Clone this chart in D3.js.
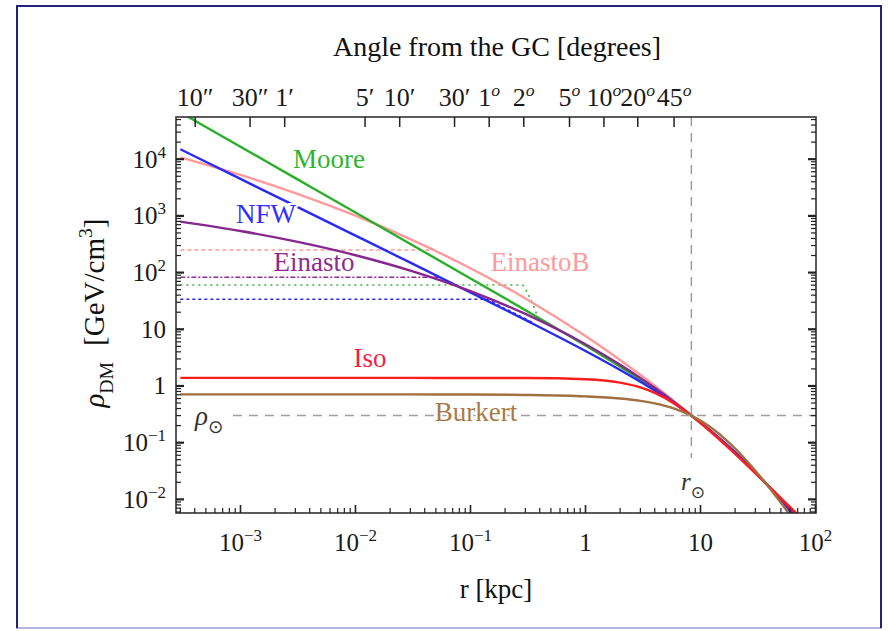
<!DOCTYPE html>
<html>
<head>
<meta charset="utf-8">
<title>DM density profiles</title>
<script src="https://d3js.org/d3.v7.min.js"></script>
<style>
  body { margin: 0; background: #fff; }
  text { font-family: "Liberation Serif", "DejaVu Serif", serif; }
</style>
</head>
<body>
<svg id="chart" width="888" height="631"></svg>
<script>
const radii = [0.0003, 0.001, 0.003, 0.01, 0.03, 0.1, 0.3, 1, 2, 3, 4, 6, 8.33, 12, 18, 25, 35, 50, 70, 100];

// rho_DM in GeV/cm^3 at those radii
const moore    = [66970, 16570, 4632, 1146, 319.9, 78.83, 21.78, 5.170, 2.183, 1.289, 0.8746, 0.4923, 0.3001, 0.1662, 0.08136, 0.04332, 0.02160, 0.009759, 0.004386, 0.001792];
const nfw      = [14980, 4492, 1497, 448.9, 149.4, 44.57, 14.62, 4.147, 1.919, 1.188, 0.8294, 0.4826, 0.2999, 0.1683, 0.08273, 0.04388, 0.02168, 0.009676, 0.004294, 0.001731];
const einasto  = [793.3, 542.0, 355.2, 202.3, 108.3, 47.06, 18.67, 5.443, 2.368, 1.386, 0.9278, 0.5084, 0.3029, 0.1643, 0.07957, 0.04258, 0.02163, 0.01010, 0.004711, 0.001999];
const einastoB = [10765, 5278, 2523, 1006.8, 389.0, 119.15, 34.99, 7.617, 2.881, 1.573, 1.0072, 0.5242, 0.3024, 0.1602, 0.07668, 0.04120, 0.02129, 0.01029, 0.005047, 0.002303];
const iso      = [1.387, 1.387, 1.387, 1.387, 1.387, 1.386, 1.3805, 1.318, 1.148, 0.9441, 0.7563, 0.4822, 0.3004, 0.1631, 0.07753, 0.04131, 0.02139, 0.01056, 0.005409, 0.002656];
const burkert  = [0.7120, 0.7119, 0.7118, 0.7114, 0.7103, 0.7064, 0.6951, 0.6558, 0.6000, 0.5451, 0.4921, 0.3947, 0.2999, 0.1928, 0.09745, 0.04894, 0.02193, 0.008685, 0.003462, 0.001265];

// smoothed (cored) versions, dashed/dotted
const einastoBSmoothR = [0.0003, 0.044];
const einastoBSmooth  = [250, 250];
const einastoSmoothR  = [0.0003, 0.055];
const einastoSmooth   = [82.6, 82.6];
const mooreSmoothR    = [0.0003, 0.28, 0.32, 0.38];
const mooreSmooth     = [60.4, 60.4, 40, 17.5];
const nfwSmoothR      = [0.0003, 0.13, 0.2, 0.35];
const nfwSmooth       = [33.8, 33.8, 23.0, 13.0];

// axes
const xDecades = [1e-3, 1e-2, 1e-1, 1, 10, 100];
const xDecadeLabels = [["10", "−3"], ["10", "−2"], ["10", "−1"], ["1", ""], ["10", ""], ["10", "2"]];
const yDecades = [1e-2, 1e-1, 1, 10, 1e2, 1e3, 1e4];
const yDecadeLabels = [["10", "−2"], ["10", "−1"], ["1", ""], ["10", ""], ["10", "2"], ["10", "3"], ["10", "4"]];
const angleDeg = [10 / 3600, 30 / 3600, 1 / 60, 5 / 60, 10 / 60, 0.5, 1, 2, 5, 10, 20, 45];
const angleLabels = [["10", "″"], ["30", "″"], ["1", "′"], ["5", "′"], ["10", "′"], ["30", "′"],
                     ["1", "o"], ["2", "o"], ["5", "o"], ["10", "o"], ["20", "o"], ["45", "o"]];

const rSun = 8.33, rhoSun = 0.3;

const W = 888, H = 631;
const plot = { left: 176, right: 816, top: 117, bottom: 513 };

const svg = d3.select("#chart");
svg.append("rect").attr("width", W).attr("height", H).attr("fill", "#fff");

// outer frame of the slide
svg.append("rect").attr("x", 17).attr("y", 6).attr("width", 864).attr("height", 622)
    .attr("fill", "none").attr("stroke", "#b4b4e0").attr("stroke-width", 2);
svg.append("path").attr("d", "M17,628 V6 H881 V628")
    .attr("fill", "none").attr("stroke", "#22227a").attr("stroke-width", 2);

const x = d3.scaleLog().domain([2.75e-4, 101]).range([plot.left, plot.right]);
const y = d3.scaleLog().domain([0.00575, 55460]).range([plot.bottom, plot.top]);

// text with sub/superscripts
function rich(parent, px, py, parts, size, anchor, color) {
    const t = parent.append("text").attr("x", px).attr("y", py)
        .attr("font-size", size).attr("text-anchor", anchor).attr("fill", color);
    let shift = 0;
    parts.forEach(([s, kind, gap]) => {
        if (s === "") return;
        const target = kind.includes("sup") ? -0.4 * size : kind.includes("sub") ? 0.3 * size : 0;
        const ts = t.append("tspan").text(s).attr("dy", target - shift);
        shift = target;
        if (gap) ts.attr("dx", gap);
        if (kind.includes("sup") || kind.includes("sub")) ts.attr("font-size", size * 0.68);
        if (kind.includes("it")) ts.attr("font-style", "italic");
        if (kind.includes("sym")) ts.attr("font-family", "DejaVu Sans");
    });
    return t;
}

svg.append("clipPath").attr("id", "clip").append("rect")
    .attr("x", plot.left).attr("y", plot.top)
    .attr("width", plot.right - plot.left).attr("height", plot.bottom - plot.top);

const line = d3.line().x(d => x(d[0])).y(d => y(d[1])).curve(d3.curveMonotoneX);
const curves = svg.append("g").attr("clip-path", "url(#clip)");

// reference lines for the Sun
const gSun = svg.append("g").attr("stroke", "#9c9c9c").attr("stroke-width", 1.5)
    .attr("stroke-dasharray", "9,7");
gSun.append("line").attr("x1", 233).attr("x2", plot.right)
    .attr("y1", y(rhoSun)).attr("y2", y(rhoSun));
gSun.append("line").attr("x1", x(rSun)).attr("x2", x(rSun))
    .attr("y1", plot.top).attr("y2", 458);

// smoothed profiles
const smooth = [
    { r: einastoBSmoothR, v: einastoBSmooth, color: "#ff9c9c", dash: "4,3" },
    { r: einastoSmoothR, v: einastoSmooth, color: "#8e2c96", dash: "5,2,2,2" },
    { r: mooreSmoothR, v: mooreSmooth, color: "#33b833", dash: "2,4" },
    { r: nfwSmoothR, v: nfwSmooth, color: "#2828f0", dash: "3,3" }
];
smooth.forEach(s => {
    curves.append("path").datum(s.r.map((r, i) => [r, s.v[i]]))
        .attr("d", line).attr("fill", "none").attr("stroke", s.color)
        .attr("stroke-width", 1.6).attr("stroke-dasharray", s.dash);
});

const profiles = [
    { v: einastoB, color: "#ff9a9a" },
    { v: moore, color: "#2aae2a" },
    { v: nfw, color: "#2a2af2" },
    { v: einasto, color: "#86288e" },
    { v: iso, color: "#ff1e1e" },
    { v: burkert, color: "#a0703e" }
];
profiles.forEach(p => {
    curves.append("path").datum(radii.map((r, i) => [r, p.v[i]]))
        .attr("d", line).attr("fill", "none").attr("stroke", p.color)
        .attr("stroke-width", 2.4);
});

// frame
svg.append("rect").attr("x", plot.left).attr("y", plot.top)
    .attr("width", plot.right - plot.left).attr("height", plot.bottom - plot.top)
    .attr("fill", "none").attr("stroke", "#333").attr("stroke-width", 1.6);

// ticks
const ticks = svg.append("g").attr("stroke", "#222");
const xMinor = x.ticks().filter(v => v >= x.domain()[0] && v <= x.domain()[1]);
const yMinor = y.ticks().filter(v => v >= y.domain()[0] && v <= y.domain()[1]);
const isDecade = v => Math.abs(Math.log10(v) - Math.round(Math.log10(v))) < 1e-6;

xMinor.forEach(v => {
    const len = isDecade(v) ? 8 : 5;
    ticks.append("line").attr("x1", x(v)).attr("x2", x(v))
        .attr("y1", plot.bottom).attr("y2", plot.bottom - len)
        .attr("stroke-width", isDecade(v) ? 1.6 : 1.2);
});
yMinor.forEach(v => {
    const len = isDecade(v) ? 8 : 5;
    const w = isDecade(v) ? 2.2 : 1.2;
    ticks.append("line").attr("x1", plot.left).attr("x2", plot.left + len)
        .attr("y1", y(v)).attr("y2", y(v)).attr("stroke-width", w);
    ticks.append("line").attr("x1", plot.right).attr("x2", plot.right - len)
        .attr("y1", y(v)).attr("y2", y(v)).attr("stroke-width", w);
});
const angleX = a => x(rSun * Math.sin(a * Math.PI / 180));
angleDeg.forEach(a => {
    ticks.append("line").attr("x1", angleX(a)).attr("x2", angleX(a))
        .attr("y1", plot.top).attr("y2", plot.top + 10).attr("stroke-width", 1.5);
});

// tick labels
xDecades.forEach((v, i) => {
    const [b, e] = xDecadeLabels[i];
    rich(svg, x(v), 551, [[b, ""], [e, "sup"]], 25, "middle", "#1a1a1a");
});
yDecades.forEach((v, i) => {
    const [b, e] = yDecadeLabels[i];
    rich(svg, 166, y(v) + 8.5, [[b, ""], [e, "sup"]], 25, "end", "#1a1a1a");
});
angleDeg.forEach((a, i) => {
    const [b, e] = angleLabels[i];
    const kind = e === "o" ? "supit" : "";
    rich(svg, angleX(a), 106, [[b, ""], [e, kind]], 26, "middle", "#1a1a1a");
});

// titles
rich(svg, 497, 56, [["Angle from the GC [degrees]", ""]], 28, "middle", "#111");
rich(svg, 496, 598, [["r [kpc]", ""]], 27, "middle", "#111");
const yt = svg.append("g").attr("transform", "translate(104,313) rotate(-90)");
rich(yt, 0, 0, [["ρ", "it"], ["DM", "sub"], ["[GeV/cm", "", 16], ["3", "sup"], ["]", ""]], 29, "middle", "#111");

// curve labels
const labels = [
    { t: "Moore", x: 329, y: 168, color: "#2db52d" },
    { t: "NFW", x: 266, y: 223, color: "#3030ff" },
    { t: "Einasto", x: 314, y: 271, color: "#8b2c8e" },
    { t: "EinastoB", x: 540, y: 271, color: "#ff9a9a" },
    { t: "Iso", x: 370, y: 367, color: "#f41e40" },
    { t: "Burkert", x: 476, y: 421, color: "#a97a45" }
];
labels.forEach(l => {
    rich(svg, l.x, l.y, [[l.t, ""]], 27, "middle", l.color)
        .attr("stroke", "#fff").attr("stroke-width", 4).attr("paint-order", "stroke");
});

// sun markers
rich(svg, 195, 425, [["ρ", "it"], ["⊙", "subsym"]], 27, "start", "#333");
rich(svg, 681, 490, [["r", "it"], ["⊙", "subsym"]], 25, "start", "#333");
</script>
</body>
</html>
